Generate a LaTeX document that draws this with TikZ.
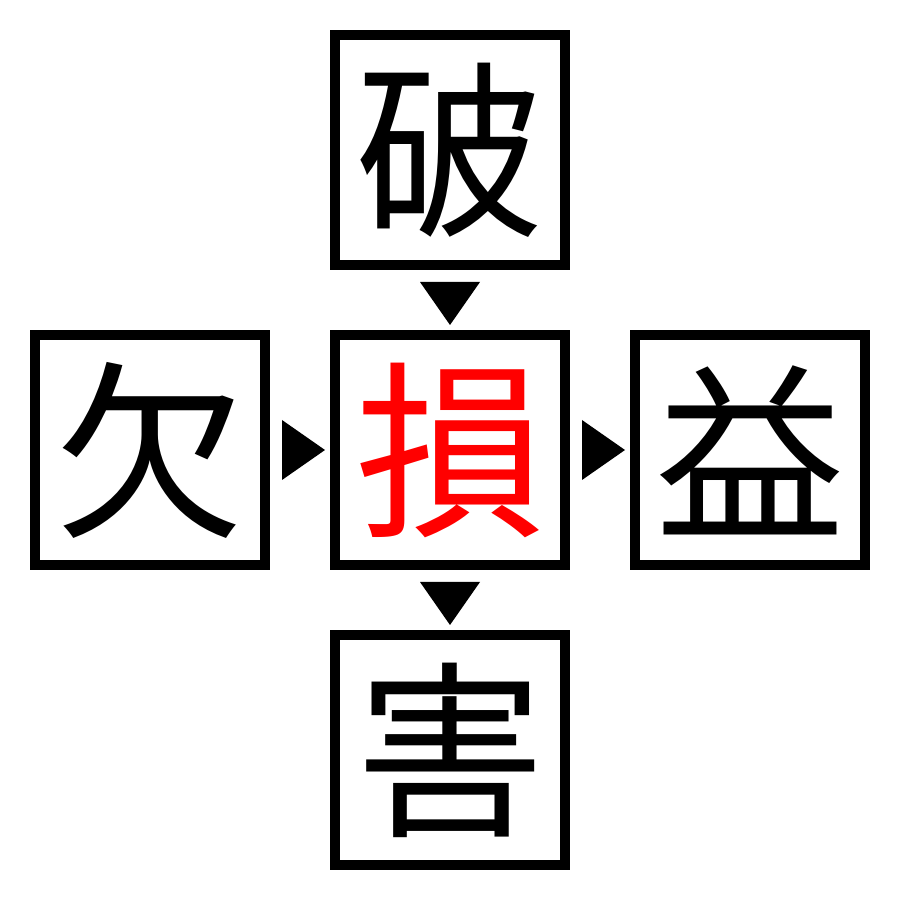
\documentclass[tikz,border=0pt]{standalone}
\usepackage{fontspec}
\newfontfamily\cjk{Noto Sans CJK JP}
\usetikzlibrary{calc}
\definecolor{sonred}{RGB}{255,0,0}
\tikzset{
  charbox/.style={draw=black, line width=2.845pt, minimum size=2.3cm, inner sep=0pt,
    font=\cjk\fontsize{54}{54}\selectfont},
  tri/.style={fill=black, draw=none}
}
\begin{document}
\begin{tikzpicture}
\useasboundingbox[fill=white] (0,0) rectangle (9,9);
\node[charbox] (top) at (4.5,7.5) {破};
\node[charbox] (left) at (1.5,4.5) {欠};
\node[charbox, text=sonred] (mid) at (4.5,4.5) {損};
\node[charbox] (right) at (7.5,4.5) {益};
\node[charbox] (bot) at (4.5,1.5) {害};
% arrowheads
\fill[tri] ($(top.south)+(-0.3,-0.12)$) -- ($(top.south)+(0.3,-0.12)$) -- ($(mid.north)+(0,0.05)$) -- cycle;
\fill[tri] ($(mid.south)+(-0.3,-0.12)$) -- ($(mid.south)+(0.3,-0.12)$) -- ($(bot.north)+(0,0.05)$) -- cycle;
\fill[tri] ($(left.east)+(0.12,0.3)$) -- ($(left.east)+(0.12,-0.3)$) -- ($(mid.west)+(-0.05,0)$) -- cycle;
\fill[tri] ($(mid.east)+(0.12,0.3)$) -- ($(mid.east)+(0.12,-0.3)$) -- ($(right.west)+(-0.05,0)$) -- cycle;
\end{tikzpicture}
\end{document}
